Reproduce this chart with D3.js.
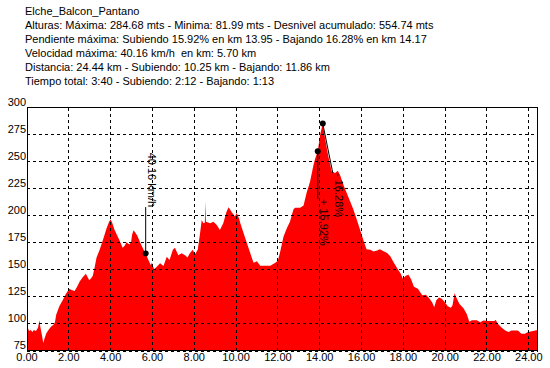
<!DOCTYPE html>
<html>
<head>
<meta charset="utf-8">
<script src="https://cdn.jsdelivr.net/npm/d3@7"></script>
<style>
  body { margin: 0; background: #fff; }
  svg text { font-family: "Liberation Sans", Arial, sans-serif; font-size: 11px; fill: #000; white-space: pre; }
</style>
</head>
<body>
<div id="chart"></div>
<script>
// perfil: km recorridos y altura (m)
const kmValues = [0.00, 0.05, 0.12, 0.20, 0.28, 0.35, 0.45, 0.55, 0.62, 0.66, 0.75, 0.80, 0.86, 0.95, 1.05, 1.17, 1.30, 1.36, 1.42, 1.57,
  1.73, 1.90, 2.05, 2.15, 2.30, 2.42, 2.55, 2.70, 2.84, 2.92, 3.00, 3.10, 3.17, 3.25, 3.35, 3.50, 3.67, 3.83, 3.95, 4.02,
  4.10, 4.20, 4.32, 4.44, 4.60, 4.70, 4.78, 4.92, 5.00, 5.05, 5.12, 5.20, 5.30, 5.43, 5.60, 5.70, 5.83, 5.94, 6.00, 6.10,
  6.23, 6.39, 6.55, 6.71, 6.84, 7.00, 7.10, 7.26, 7.42, 7.58, 7.70, 7.82, 7.95, 8.06, 8.19, 8.30, 8.38, 8.46, 8.53, 8.55,
  8.58, 8.78, 8.94, 9.10, 9.25, 9.41, 9.57, 9.67, 9.81, 9.97, 10.05, 10.17, 10.22, 10.38, 10.54, 10.70, 10.86, 11.02, 11.18, 11.42,
  11.66, 11.90, 12.02, 12.13, 12.29, 12.45, 12.60, 12.77, 12.85, 13.09, 13.25, 13.40, 13.56, 13.72, 13.80, 13.93, 14.05, 14.17, 14.28, 14.44,
  14.60, 14.76, 14.89, 15.00, 15.16, 15.35, 15.48, 15.64, 15.83, 15.96, 16.13, 16.26, 16.45, 16.60, 16.77, 16.90, 17.10, 17.25, 17.40, 17.57,
  17.73, 17.90, 18.00, 18.14, 18.27, 18.40, 18.53, 18.72, 18.93, 19.10, 19.25, 19.40, 19.50, 19.60, 19.73, 19.86, 20.00, 20.15, 20.30, 20.38,
  20.47, 20.58, 20.70, 20.90, 21.05, 21.18, 21.30, 21.54, 21.70, 21.85, 22.10, 22.38, 22.44, 22.54, 22.73, 22.90, 23.05, 23.20, 23.50, 23.67,
  23.83, 23.99, 24.23, 24.44];
const elevValues = [98, 97, 93, 94, 92, 94, 93, 96, 103, 97, 88, 82, 86, 91, 94, 97, 99, 101, 108, 116,
  121.5, 128, 132, 131, 130, 134, 139, 143, 146, 143, 140, 142, 144, 151, 161, 168, 178, 188, 194, 196,
  193, 187, 182, 177, 170, 172, 175, 173, 175, 182, 186, 184, 181, 175, 168, 164.7, 158.6, 154, 156, 150,
  152.5, 155.6, 153, 161.7, 158.6, 168, 170, 163, 164.8, 163, 161, 165, 168, 164, 168, 183, 195.7, 192.6, 193, 212.7,
  194, 192.6, 194, 191, 186.4, 192.6, 203.4, 207.4, 203, 198.8, 202, 197, 193, 183.6, 174.4, 165, 156, 157.4, 153.4, 153.4,
  153.4, 156, 158, 166, 180, 188, 194, 205.5, 206.8, 206.8, 209, 221, 231, 246, 252, 259, 275, 284.68, 271, 254,
  240.4, 239, 241, 237, 228, 219, 212.7, 205, 194, 186, 176, 168.6, 168, 166.5, 167.3, 168.6, 166.5, 165, 162, 156,
  151, 146, 141.4, 144, 145, 140.5, 134, 132, 126, 126.5, 123.6, 119.6, 115, 121.5, 124, 122.8, 119.8, 116, 114.5, 117,
  128, 123, 118.2, 114, 109, 101.5, 103, 103, 101.2, 102.8, 102.2, 102.2, 103.4, 99.7, 96, 93.5, 92, 93.5, 93.5, 90.4,
  90.4, 92, 93, 94];

const xTicks = [0, 2, 4, 6, 8, 10, 12, 14, 16, 18, 20, 22, 24];
const yTicks = [75, 100, 125, 150, 175, 200, 225, 250, 275, 300];

const headerLines = [
  'Elche_Balcon_Pantano',
  'Alturas: Máxima: 284.68 mts - Minima: 81.99 mts - Desnivel acumulado: 554.74 mts',
  'Pendiente máxima: Subiendo 15.92% en km 13.95 - Bajando 16.28% en km 14.17',
  'Velocidad máxima: 40.16 km/h  en km: 5.70 km',
  'Distancia: 24.44 km - Subiendo: 10.25 km - Bajando: 11.86 km',
  'Tiempo total: 3:40 - Subiendo: 2:12 - Bajando: 1:13'
];

// marcas: velocidad máxima, subida máxima, bajada máxima
const speedMark = { km: 5.70, elev: 164.7, topElev: 207.5, label: '40.16 km/h' };
const climbMark = { km: 13.93, elev: 259, endElev: 215, label: '+ 15.92%' };
const descentMark = { km: 14.17, elev: 284.68, endKm: 14.65, endElev: 239, label: '- 16.28%' };

const width = 550, height = 368;
const plot = { left: 27, right: 537.5, top: 107, bottom: 350.5 };

const svg = d3.select('#chart').append('svg')
  .attr('width', width)
  .attr('height', height)
  .style('display', 'block');

// cabecera
svg.append('g').selectAll('text')
  .data(headerLines)
  .join('text')
  .attr('x', 25)
  .attr('y', (d, i) => 15 + i * 14)
  .text(d => d);

const x = d3.scaleLinear().domain([0, 24.44]).range([26.5, plot.right]);
const y = d3.scaleLinear().domain([75, 300]).range([plot.bottom, plot.top]);

const profile = kmValues.map((k, i) => ({ km: k, elev: elevValues[i] }));

// area roja
const area = d3.area()
  .x(d => x(d.km))
  .y0(plot.bottom)
  .y1(d => y(d.elev));

svg.append('clipPath').attr('id', 'clip')
  .append('rect')
  .attr('x', plot.left).attr('y', plot.top)
  .attr('width', plot.right - plot.left).attr('height', plot.bottom - plot.top);

svg.append('path')
  .datum(profile)
  .attr('clip-path', 'url(#clip)')
  .attr('fill', '#ff0000')
  .attr('d', area);

// eje x con rejilla
const xAxisG = svg.append('g')
  .attr('transform', `translate(0,${plot.bottom})`)
  .call(d3.axisBottom(x)
    .tickValues(xTicks)
    .tickSizeInner(-(plot.bottom - plot.top))
    .tickSizeOuter(0)
    .tickPadding(3)
    .tickFormat(d3.format('.2f')));
xAxisG.select('.domain').remove();
xAxisG.selectAll('line')
  .attr('stroke', '#000')
  .attr('stroke-dasharray', '3,3')
  .attr('shape-rendering', 'crispEdges');
xAxisG.selectAll('text')
  .attr('font-size', 11)
  .attr('font-family', '"Liberation Sans", Arial, sans-serif');

// eje y con rejilla
const yAxisG = svg.append('g')
  .attr('transform', `translate(${plot.left},0)`)
  .call(d3.axisLeft(y)
    .tickValues(yTicks)
    .tickSizeInner(-(plot.right - plot.left))
    .tickSizeOuter(0)
    .tickPadding(1));
yAxisG.select('.domain').remove();
yAxisG.selectAll('line')
  .attr('stroke', '#000')
  .attr('stroke-dasharray', '3,3')
  .attr('shape-rendering', 'crispEdges');
yAxisG.selectAll('text')
  .attr('dy', '-0.15em')
  .attr('font-size', 11)
  .attr('font-family', '"Liberation Sans", Arial, sans-serif');

// marco
svg.append('rect')
  .attr('x', plot.left + 0.5)
  .attr('y', plot.top + 0.5)
  .attr('width', plot.right - plot.left - 0.5)
  .attr('height', plot.bottom - plot.top - 0.5)
  .attr('fill', 'none')
  .attr('stroke', '#000')
  .attr('shape-rendering', 'crispEdges');

// marcas
const marks = svg.append('g');

marks.append('line')
  .attr('x1', x(speedMark.km)).attr('x2', x(speedMark.km))
  .attr('y1', y(speedMark.elev)).attr('y2', y(speedMark.topElev))
  .attr('stroke', '#000');
marks.append('text')
  .attr('transform', `translate(${x(speedMark.km)},${y(speedMark.topElev)}) rotate(90)`)
  .attr('text-anchor', 'end')
  .attr('dy', '-0.2em')
  .attr('font-size', 10)
  .text(speedMark.label);

marks.append('line')
  .attr('x1', x(climbMark.km)).attr('x2', x(climbMark.km))
  .attr('y1', y(climbMark.elev)).attr('y2', y(climbMark.endElev))
  .attr('stroke', '#000');
marks.append('text')
  .attr('transform', `translate(${x(climbMark.km)},${y(climbMark.endElev)}) rotate(90)`)
  .attr('dy', '-0.2em')
  .attr('font-size', 10)
  .text(climbMark.label);

marks.append('line')
  .attr('x1', x(descentMark.km)).attr('x2', x(descentMark.endKm))
  .attr('y1', y(descentMark.elev)).attr('y2', y(descentMark.endElev))
  .attr('stroke', '#000');
marks.append('text')
  .attr('transform', `translate(${x(descentMark.endKm)},${y(descentMark.endElev)}) rotate(90)`)
  .attr('dy', '-0.2em')
  .attr('font-size', 10)
  .text(descentMark.label);

marks.selectAll('circle')
  .data([speedMark, climbMark, descentMark])
  .join('circle')
  .attr('cx', d => x(d.km))
  .attr('cy', d => y(d.elev))
  .attr('r', 3)
  .attr('fill', '#000');
</script>
</body>
</html>
